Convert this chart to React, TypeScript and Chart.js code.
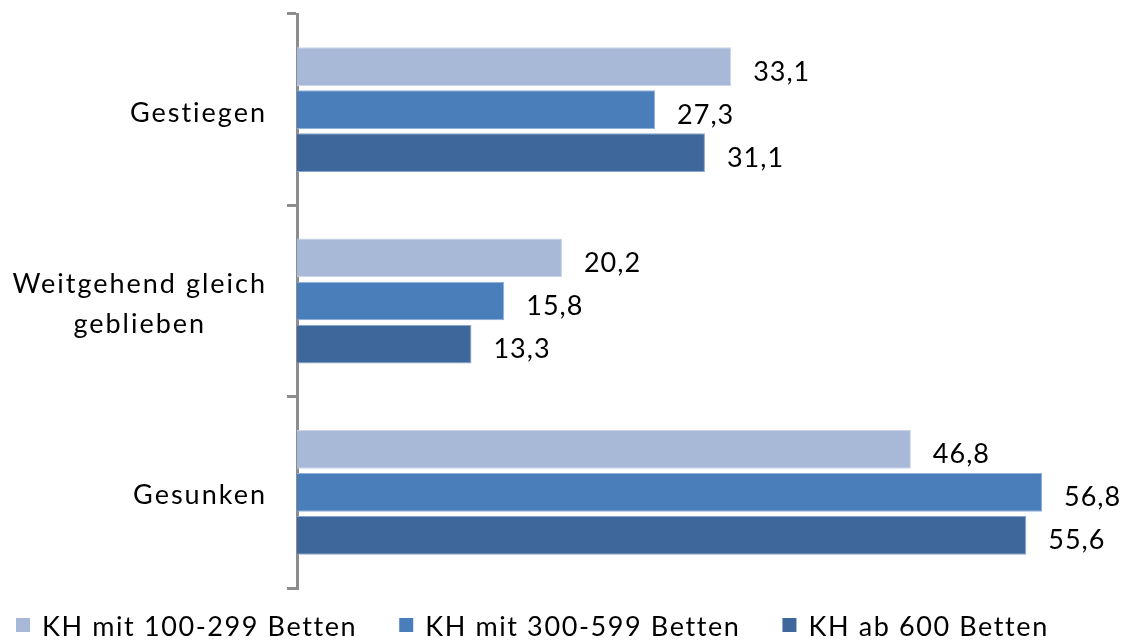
import React, { useEffect, useRef } from "react";
import { Chart, registerables } from "chart.js";

Chart.register(...registerables);

const categories = ["Gestiegen", "Weitgehend gleich\ngeblieben", "Gesunken"];
const seriesLabels = ["KH mit 100-299 Betten", "KH mit 300-599 Betten", "KH ab 600 Betten"];
const series100to299 = [33.1, 20.2, 46.8];
const series300to599 = [27.3, 15.8, 56.8];
const series600plus = [31.1, 13.3, 55.6];
const seriesColors = ["#a8b9d8", "#4a7ebb", "#3e679c"];
const seriesBorders = ["#c9d4e8", "#8fb0d8", "#8aa6c8"];
const xMax = 60;

const FONT = "Lato, 'Open Sans', sans-serif";
const TEXT_COLOR = "#000000";

const fmt = (v: number) => v.toFixed(1).replace(".", ",");

const textPlugin = {
  id: "customText",
  afterDraw(chart: any) {
    const ctx = chart.ctx as CanvasRenderingContext2D;
    const yScale = chart.scales.y;
    const area = chart.chartArea;
    ctx.save();
    ctx.fillStyle = TEXT_COLOR;

    // category labels (right-aligned block, lines centered inside)
    ctx.font = `27px ${FONT}`;
    (ctx as any).letterSpacing = "2px";
    ctx.textAlign = "center";
    ctx.textBaseline = "alphabetic";
    categories.forEach((c, i) => {
      const lines = c.split("\n");
      const maxW = Math.max(...lines.map((l) => ctx.measureText(l).width));
      const right = area.left - 30;
      const cx = right - maxW / 2;
      const cy = yScale.getPixelForValue(i);
      lines.forEach((l, j) => {
        ctx.fillText(l, cx, cy + 12 + (j - (lines.length - 1) / 2) * 40);
      });
    });

    // data labels
    ctx.font = `27px ${FONT}`;
    (ctx as any).letterSpacing = "1px";
    ctx.textAlign = "left";
    chart.data.datasets.forEach((ds: any, di: number) => {
      const meta = chart.getDatasetMeta(di);
      meta.data.forEach((bar: any, i: number) => {
        ctx.fillText(fmt(ds.data[i]), bar.x + 22, bar.y + 14);
      });
    });

    // legend
    ctx.font = `27px ${FONT}`;
    (ctx as any).letterSpacing = "1.6px";
    ctx.textAlign = "left";
    let x = 16;
    const box = 14;
    const baseline = 636;
    chart.data.datasets.forEach((ds: any) => {
      ctx.fillStyle = ds.backgroundColor;
      ctx.fillRect(x, baseline - 18, box, box);
      ctx.fillStyle = TEXT_COLOR;
      const tx = x + box + 12;
      ctx.fillText(ds.label, tx, baseline);
      x = tx + ctx.measureText(ds.label).width + 42;
    });
    ctx.restore();
  },
};

export default function App() {
  const canvasRef = useRef<HTMLCanvasElement | null>(null);

  useEffect(() => {
    if (!canvasRef.current) return;
    const seriesData = [series100to299, series300to599, series600plus];
    const chart = new Chart(canvasRef.current, {
      type: "bar",
      data: {
        labels: categories,
        datasets: seriesData.map((d, i) => ({
          label: seriesLabels[i],
          data: d,
          backgroundColor: seriesColors[i],
          borderColor: seriesBorders[i],
          borderWidth: 1,
          categoryPercentage: 0.675,
          barPercentage: 0.9,
        })),
      },
      options: {
        indexAxis: "y",
        responsive: false,
        animation: false,
        layout: { padding: { top: 14, bottom: 52, right: 37, left: 0 } },
        plugins: {
          legend: { display: false },
          tooltip: { enabled: false },
          title: { display: false },
        },
        scales: {
          x: { display: false, min: 0, max: xMax },
          y: {
            afterFit: (scale: any) => {
              scale.width = 297;
            },
            ticks: { display: false },
            grid: {
              drawOnChartArea: false,
              drawTicks: true,
              tickLength: 10,
              color: "#8c8c8c",
              lineWidth: 3,
              offset: true,
            },
            border: { display: true, color: "#8c8c8c", width: 3 },
          },
        },
      },
      plugins: [textPlugin],
    });
    return () => chart.destroy();
  }, []);

  return (
    <div style={{ position: "fixed", left: 0, top: 0, width: 1121, height: 640, background: "#fff" }}>
      <canvas ref={canvasRef} width={1121} height={640} style={{ display: "block" }} />
    </div>
  );
}
